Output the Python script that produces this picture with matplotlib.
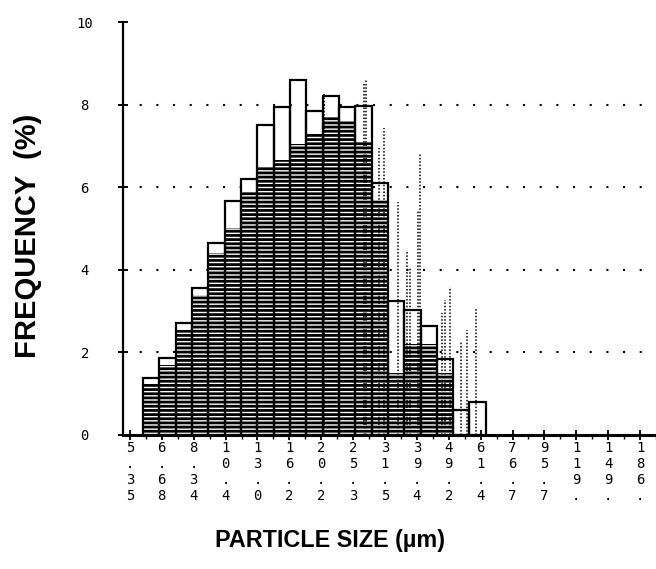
import numpy as np
import matplotlib
matplotlib.use("Agg")
import matplotlib.pyplot as plt

# ---- data ----
size_labels = ["5.35", "6.68", "8.34", "10.4", "13.0", "16.2", "20.2", "25.3",
               "31.5", "39.4", "49.2", "61.4", "76.7", "95.7", "119.", "149.", "186."]
freq = [1.38, 1.86, 2.72, 3.57, 4.66, 5.66, 6.21, 7.50, 7.95, 8.60, 7.85,
        8.22, 7.95, 7.97, 6.09, 3.24, 3.03, 2.64, 1.84, 0.61, 0.81]
# level up to which the dense horizontal shading reaches inside each bar
shade = [1.25, 1.70, 2.55, 3.40, 4.40, 5.00, 5.90, 6.50, 6.65, 7.05, 7.30,
         7.70, 7.60, 7.10, 5.70, 1.50, 2.20, 2.20, 1.50, 0.0, 0.0]
# dotted print streaks (position in bar units, top value)
streak_x = [11.1, 13.55, 13.66, 14.45, 14.75, 15.65, 16.2, 16.38, 16.86, 16.98,
            18.3, 18.5, 18.8, 19.5, 19.87, 20.4]
streak_h = [8.3, 8.5, 8.6, 6.95, 7.43, 5.64, 4.48, 4.07, 5.45, 6.83,
            2.95, 3.27, 3.58, 2.25, 2.54, 3.07]
y_ticks = [0, 2, 4, 6, 8, 10]
grid_levels = [2, 4, 6, 8]

plt.rcParams['hatch.linewidth'] = 2.0
plt.rcParams['hatch.color'] = 'black'

fig = plt.figure(figsize=(6.56, 5.69), dpi=100)
ax = fig.add_axes([123 / 656, 1 - 435 / 569, 1 - 123 / 656, (435 - 22) / 569])

x = np.arange(len(freq))
# dotted grid
for g in grid_levels:
    ax.axhline(g, color='black', lw=1.5, linestyle=(0, (1, 7)), zorder=0)

# shaded part of bars
ax.bar(x, shade, width=1.0, align='edge', color='white', edgecolor='black',
       linewidth=0, hatch='----', zorder=2)
# streaks
ax.vlines(streak_x, 0, streak_h, colors='black', linewidth=1.1,
          linestyles=(0, (1, 1.2)), zorder=3)
# outlines
ax.bar(x, freq, width=1.0, align='edge', fill=False, edgecolor='black',
       linewidth=1.6, zorder=4)

ax.set_xlim(-1.224, 30.9)
ax.set_ylim(0, 10)

for s in ['top', 'right']:
    ax.spines[s].set_visible(False)
ax.spines['left'].set_linewidth(1.6)
ax.spines['bottom'].set_linewidth(2.2)

mono = 'DejaVu Sans Mono'
ax.set_yticks(y_ticks)
ax.set_yticklabels([str(v) for v in y_ticks], fontfamily=mono, fontsize=10,
                   ha='center')
ax.tick_params(axis='y', direction='inout', length=7, width=1.4, pad=24)

step = 1.953
tick_pos = -0.80 + step * np.arange(len(size_labels))
ax.set_xticks(tick_pos)
ax.set_xticklabels(["\n".join(s) for s in size_labels], fontfamily=mono,
                   fontsize=10, linespacing=1.18, va='top')
ax.set_xticks(-0.80 + step * (np.arange(len(size_labels)) + 0.5), minor=True)
ax.tick_params(axis='x', which='major', direction='inout', length=7, width=1.3, pad=1)
ax.tick_params(axis='x', which='minor', direction='out', length=3, width=1.0)

fig.text(330 / 656, 1 - 541 / 569, "PARTICLE SIZE (\u00b5m)", ha='center',
         va='center', fontsize=16.8, fontweight='bold', family='Liberation Sans')
fig.text(28 / 656, 1 - 236 / 569, "FREQUENCY  (%)", ha='center', va='center',
         rotation=90, fontsize=21, fontweight='bold', family='Liberation Sans')

fig.savefig("out.png", dpi=100)
